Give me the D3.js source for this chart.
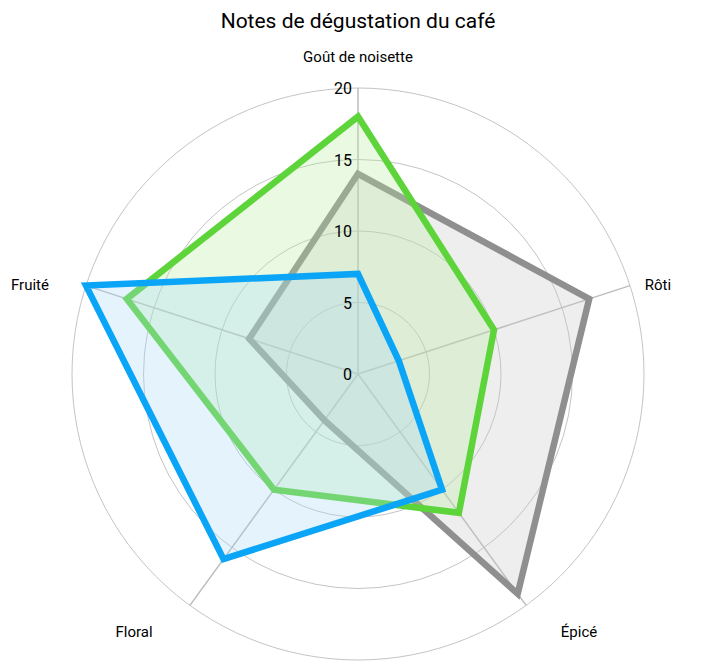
<!DOCTYPE html><html><head><meta charset="utf-8"><script src="https://cdn.jsdelivr.net/npm/d3@7"></script>
<style>body{margin:0;background:#fff}svg{font-family:Roboto,"Noto Sans",sans-serif}</style></head><body><svg width="702" height="670"></svg><script>
const axes=["Goût de noisette","Rôti","Épicé","Floral","Fruité"];
const ticks=[0,5,10,15,20];
const grayValues=[14,17,19,4,8];
const greenValues=[18,10,12,10,17];
const blueValues=[7,3,10,16,20];
const series=[{v:grayValues,c:"#8f8f8f",f:"#c8c8c8"},{v:greenValues,c:"#5dd43a",f:"#b5eba0"},{v:blueValues,c:"#0ba5f7",f:"#a8d6fa"}];
const svg=d3.select("svg"),cx=358,cy=374;
const r=d3.scaleLinear().domain([0,20]).range([0,286]);
const ang=d3.scaleLinear().domain([0,axes.length]).range([0,2*Math.PI]);
const pt=(i,v)=>[cx+r(v)*Math.sin(ang(i)),cy-r(v)*Math.cos(ang(i))];
svg.append("text").attr("x",358).attr("y",28).attr("text-anchor","middle").attr("font-size",21).text("Notes de dégustation du café");
ticks.slice(1).forEach(t=>svg.append("circle").attr("cx",cx).attr("cy",cy).attr("r",r(t)).attr("fill","none").attr("stroke","#c4c4c4").attr("stroke-width",1));
axes.forEach((a,i)=>{const p=pt(i,20);svg.append("line").attr("x1",cx).attr("y1",cy).attr("x2",p[0]).attr("y2",p[1]).attr("stroke","#bdbdbd").attr("stroke-width",1.5);});
series.forEach(s=>{svg.append("path").attr("d",d3.line()(s.v.map((v,i)=>pt(i,v)))+"Z").attr("fill",s.f).attr("fill-opacity",0.3).attr("stroke",s.c).attr("stroke-width",6.5).attr("stroke-linejoin","miter");});
ticks.forEach(t=>svg.append("text").attr("x",cx-6).attr("y",cy-r(t)+6).attr("text-anchor","end").attr("font-size",16).text(t));
const lp=[[358,62,"middle"],[658,290,"middle"],[579,637,"middle"],[134,637,"middle"],[30,290,"middle"]];
axes.forEach((a,i)=>svg.append("text").attr("x",lp[i][0]).attr("y",lp[i][1]).attr("text-anchor",lp[i][2]).attr("font-size",15).text(a));
</script></body></html>
